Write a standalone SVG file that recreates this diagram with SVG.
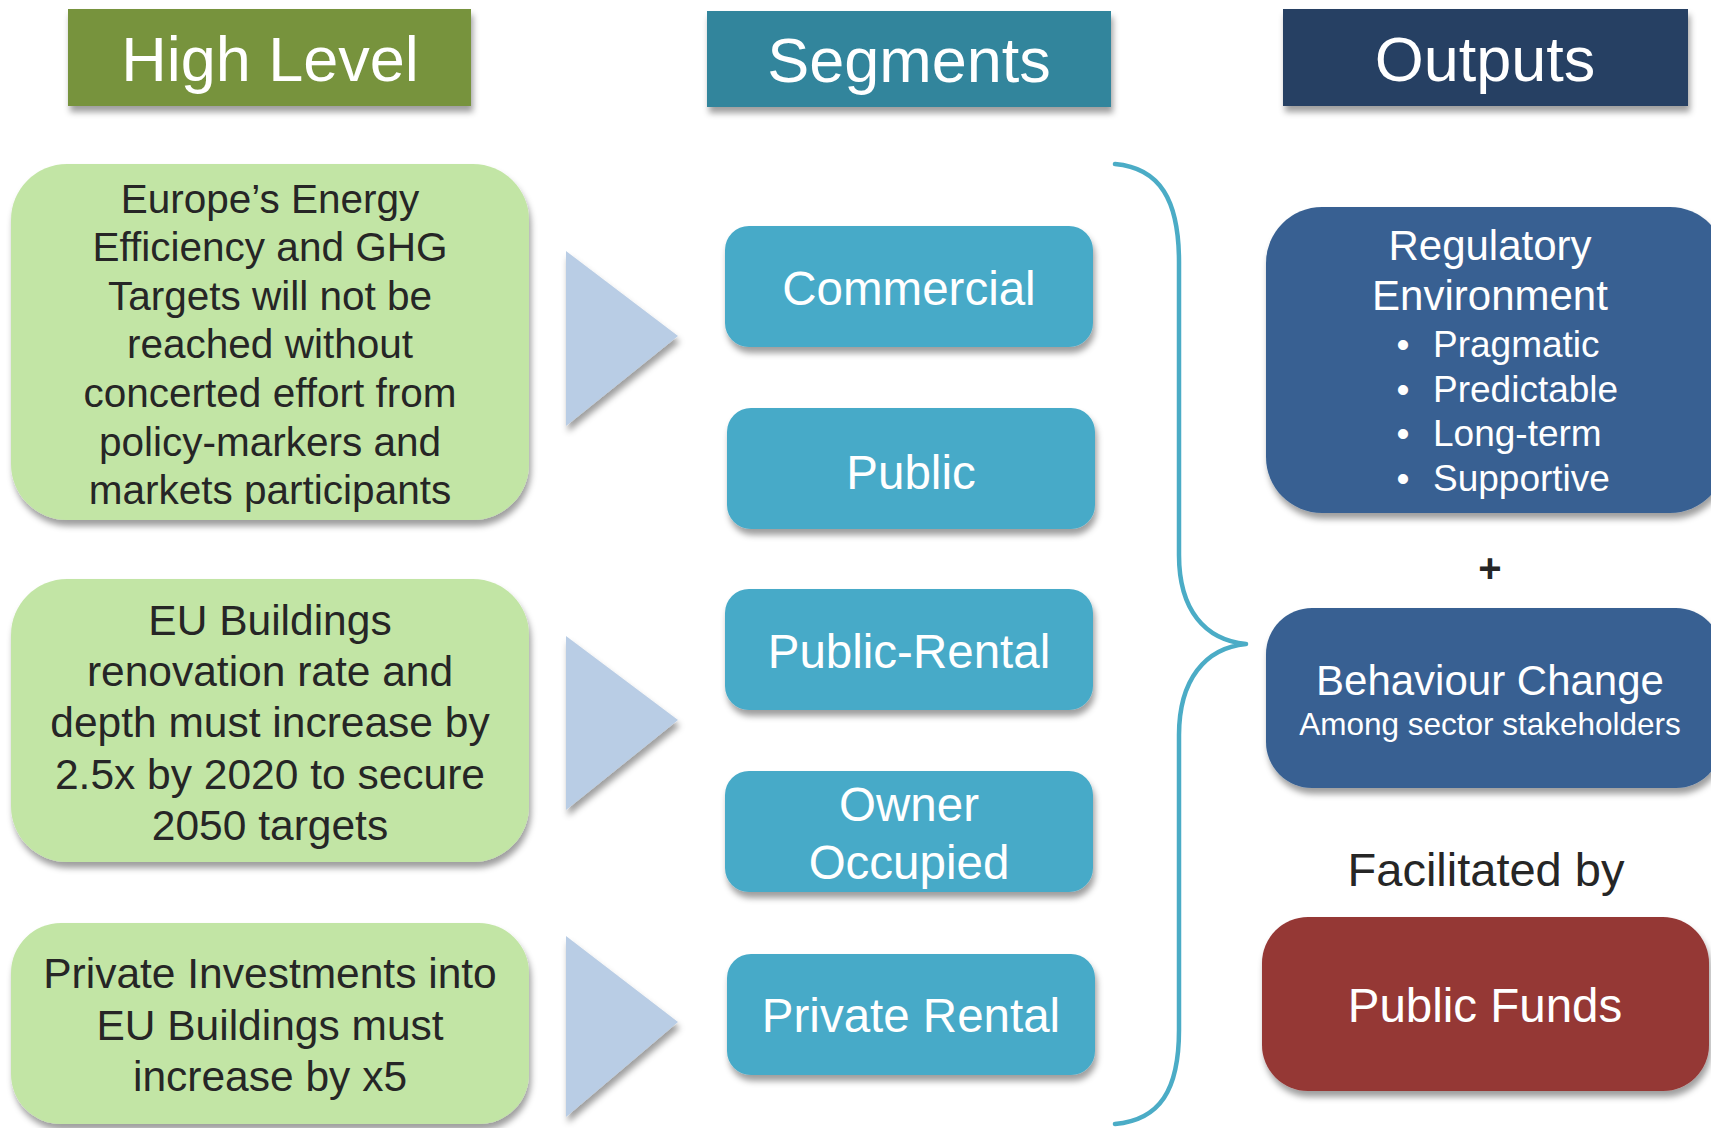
<svg xmlns="http://www.w3.org/2000/svg" width="1711" height="1128" viewBox="0 0 1711 1128">
<defs>
<filter id="sh" x="-10%" y="-10%" width="125%" height="130%">
<feDropShadow dx="2" dy="6" stdDeviation="3" flood-color="#000" flood-opacity="0.38"/>
</filter>
<style>
text{font-family:"Liberation Sans",Arial,Helvetica,sans-serif;}
.hd{font-size:63px;fill:#fff;text-anchor:middle;}
.gt{fill:#262626;text-anchor:middle;}
.seg{fill:#46aac8;filter:url(#sh);}
.st{font-size:47.5px;fill:#fff;text-anchor:middle;}
.tri{fill:#b9cde5;filter:url(#sh);}
.green{fill:#c2e5a5;filter:url(#sh);}
.blue{fill:#386192;filter:url(#sh);}
.wt{fill:#fff;}
</style>
</defs>
<rect width="1711" height="1128" fill="#fff"/>

<g id="hdr-high">
<rect x="68" y="9" width="403" height="97" fill="#77933c" filter="url(#sh)"/>
<text class="hd" x="270" y="81">High Level</text>
</g>
<g id="hdr-seg">
<rect x="707" y="11" width="404" height="96" fill="#31859c" filter="url(#sh)"/>
<text class="hd" x="909" y="82">Segments</text>
</g>
<g id="hdr-out">
<rect x="1283" y="9" width="405" height="97" fill="#264163" filter="url(#sh)"/>
<text class="hd" x="1485" y="81">Outputs</text>
</g>

<g id="hl1">
<rect class="green" x="11" y="164" width="518" height="356" rx="56"/>
<text class="gt" font-size="40.5"><tspan x="270" y="213">Europe’s Energy</tspan><tspan x="270" y="261">Efficiency and GHG</tspan><tspan x="270" y="310">Targets will not be</tspan><tspan x="270" y="358">reached without</tspan><tspan x="270" y="407">concerted effort from</tspan><tspan x="270" y="456">policy-markers and</tspan><tspan x="270" y="504">markets participants</tspan></text>
</g>
<g id="hl2">
<rect class="green" x="11" y="579" width="518" height="283" rx="56"/>
<text class="gt" font-size="42.5"><tspan x="270" y="635">EU Buildings</tspan><tspan x="270" y="686">renovation rate and</tspan><tspan x="270" y="737">depth must increase by</tspan><tspan x="270" y="789">2.5x by 2020 to secure</tspan><tspan x="270" y="840">2050 targets</tspan></text>
</g>
<g id="hl3">
<rect class="green" x="11" y="923" width="518" height="201" rx="50"/>
<text class="gt" font-size="42.5"><tspan x="270" y="988">Private Investments into</tspan><tspan x="270" y="1040">EU Buildings must</tspan><tspan x="270" y="1091">increase by x5</tspan></text>
</g>

<g id="connectors">
<polygon class="tri" points="566,251 678,336 566,426"/>
<polygon class="tri" points="566,636 678,720 566,810"/>
<polygon class="tri" points="566,936 678,1022 566,1117"/>
<path d="M1115,164 C1160,168 1179,200 1179,262 L1179,555 C1179,610 1205,640 1246,644 C1205,648 1179,680 1179,735 L1179,1030 C1179,1090 1160,1120 1115,1124" fill="none" stroke="#4bacc6" stroke-width="4.5" stroke-linecap="round" stroke-linejoin="round"/>
</g>

<g id="seg-commercial">
<rect class="seg" x="725" y="226" width="368" height="121" rx="24"/>
<text class="st" x="909" y="305">Commercial</text>
</g>
<g id="seg-public">
<rect class="seg" x="727" y="408" width="368" height="121" rx="24"/>
<text class="st" x="911" y="489">Public</text>
</g>
<g id="seg-public-rental">
<rect class="seg" x="725" y="589" width="368" height="121" rx="24"/>
<text class="st" x="909" y="668">Public-Rental</text>
</g>
<g id="seg-owner">
<rect class="seg" x="725" y="771" width="368" height="121" rx="24"/>
<text class="st"><tspan x="909" y="821">Owner</tspan><tspan x="909" y="879">Occupied</tspan></text>
</g>
<g id="seg-private-rental">
<rect class="seg" x="727" y="954" width="368" height="121" rx="24"/>
<text class="st" x="911" y="1032">Private Rental</text>
</g>

<g id="out-regulatory">
<rect class="blue" x="1266" y="207" width="460" height="306" rx="56"/>
<text class="wt" font-size="42" text-anchor="middle"><tspan x="1490" y="260">Regulatory</tspan><tspan x="1490" y="310">Environment</tspan></text>
<g font-size="37">
<text x="1403" y="357" text-anchor="middle" class="wt">•</text>
<text x="1433" y="357" class="wt">Pragmatic</text>
<text x="1403" y="402" text-anchor="middle" class="wt">•</text>
<text x="1433" y="402" class="wt">Predictable</text>
<text x="1403" y="446" text-anchor="middle" class="wt">•</text>
<text x="1433" y="446" class="wt">Long-term</text>
<text x="1403" y="491" text-anchor="middle" class="wt">•</text>
<text x="1433" y="491" class="wt">Supportive</text>
</g>
</g>
<g id="plus">
<text x="1490" y="582" font-size="40" font-weight="bold" fill="#262626" text-anchor="middle">+</text>
</g>
<g id="out-behaviour">
<rect class="blue" x="1266" y="608" width="456" height="180" rx="46"/>
<text class="wt" font-size="42" x="1490" y="695" text-anchor="middle">Behaviour Change</text>
<text class="wt" font-size="31.5" x="1490" y="735" text-anchor="middle">Among sector stakeholders</text>
</g>
<g id="facilitated">
<text x="1486" y="886" font-size="47" fill="#262626" text-anchor="middle">Facilitated by</text>
</g>
<g id="out-funds">
<rect x="1262" y="917" width="447" height="174" rx="46" fill="#953735" filter="url(#sh)"/>
<text class="wt" font-size="47.5" x="1485" y="1022" text-anchor="middle">Public Funds</text>
</g>
</svg>
